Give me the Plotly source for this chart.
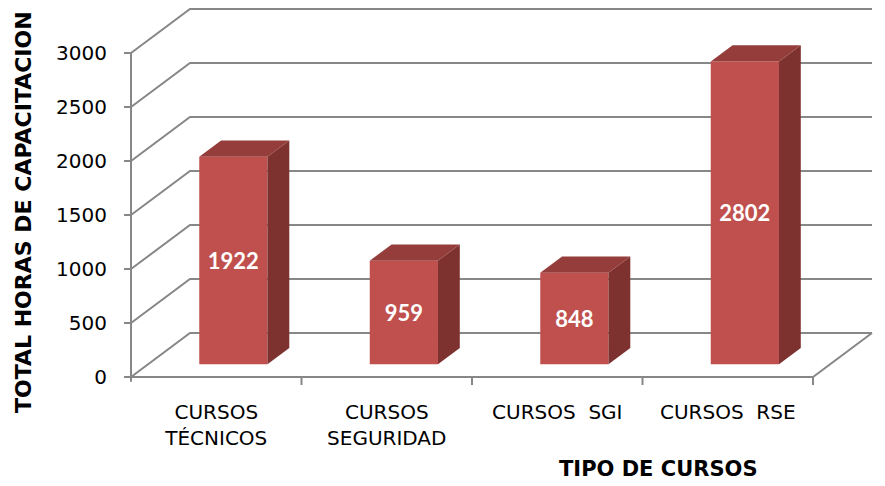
import plotly.graph_objects as go

# ---------------- data ----------------
categories = ["CURSOS<br>TÉCNICOS", "CURSOS<br>SEGURIDAD", "CURSOS\u00a0 SGI", "CURSOS\u00a0 RSE"]
hours = [1922, 959, 848, 2802]
y_ticks = [0, 500, 1000, 1500, 2000, 2500, 3000]
y_title = "TOTAL HORAS DE CAPACITACION"
x_title = "TIPO DE CURSOS"

# ---------------- geometry / style ----------------
OFF = 8                      # page body margin of the html page
W, H = 885 - OFF, 486 - OFF
AX_LEFT_PX = 131      # screen pixel of category boundary -0.5
CAT_PX = 170.5        # pixels per category
ZERO_PX = 377         # screen pixel of value 0 on the front plane
PX_PER_UNIT = 0.108   # pixels per value unit
PL, PR, PT, PB = 108, 878, 8, 394   # plot area in screen pixels

DX = 59 / CAT_PX            # depth offset (category units)
DY = 44 / PX_PER_UNIT       # depth offset (value units)
T0, T1 = 0.29, 0.66         # bar depth (front, back) as fraction of total depth
BAR_W = 0.4
TICK_LEN = 8 / PX_PER_UNIT
YTICK_LEN = 7 / CAT_PX

FRONT = "#C0504D"
SIDE = "#7E3230"
TOP = "#943D3A"
GRID = "#878787"
FONT = "DejaVu Sans"

n = len(hours)
xs = list(range(n))
x_lo, x_hi = -0.5, n - 0.5
v_max = y_ticks[-1]

x_range = [x_lo + (PL - AX_LEFT_PX) / CAT_PX, x_lo + (PR - AX_LEFT_PX) / CAT_PX]
y_range = [(ZERO_PX - PB) / PX_PER_UNIT, (ZERO_PX - PT) / PX_PER_UNIT]


def path(points):
    return "M " + " L ".join(f"{x},{y}" for x, y in points)


shapes = []
line = dict(color=GRID, width=2)
# left wall + back wall gridlines
for v in y_ticks:
    shapes.append(dict(type="path", xref="x", yref="y", layer="below", line=line,
                       path=path([(x_lo, v), (x_lo + DX, v + DY), (x_hi + DX, v + DY)])))
# floor front edge and right edge
shapes.append(dict(type="path", xref="x", yref="y", layer="below", line=line,
                   path=path([(x_lo, 0), (x_hi, 0), (x_hi + DX, DY)])))
# vertical value axis
shapes.append(dict(type="path", xref="x", yref="y", layer="below", line=line,
                   path=path([(x_lo, -TICK_LEN * 0.6), (x_lo, v_max)])))
# value axis tick marks
for v in y_ticks:
    shapes.append(dict(type="path", xref="x", yref="y", layer="below", line=line,
                       path=path([(x_lo - YTICK_LEN, v), (x_lo, v)])))
# category axis tick marks
for k in range(1, n + 1):
    shapes.append(dict(type="path", xref="x", yref="y", layer="below", line=line,
                       path=path([(x_lo + k, 0), (x_lo + k, -TICK_LEN)])))

fig = go.Figure()

base = T0 * DY
ddx, ddy = (T1 - T0) * DX, (T1 - T0) * DY

# front faces
fig.add_trace(go.Bar(
    x=[c + T0 * DX for c in xs], y=hours, base=base, width=BAR_W,
    marker=dict(color=FRONT, line=dict(width=0)),
    text=[str(h) for h in hours], textposition="inside", insidetextanchor="middle",
    textangle=0, constraintext="none",
    textfont=dict(family="Lato", size=22, color="white", weight="bold"),
    hoverinfo="skip", showlegend=False))

# side and top faces
for c, h in zip(xs, hours):
    xl = c - BAR_W / 2 + T0 * DX
    xr = c + BAR_W / 2 + T0 * DX
    sx = [xr, xr + ddx, xr + ddx, xr, xr]
    sy = [base, base + ddy, base + ddy + h, base + h, base]
    fig.add_trace(go.Scatter(x=sx, y=sy, fill="toself", fillcolor=SIDE, mode="lines",
                             line=dict(width=0, color=SIDE), hoverinfo="skip", showlegend=False))
    tx = [xl, xr, xr + ddx, xl + ddx, xl]
    ty = [base + h, base + h, base + h + ddy, base + h + ddy, base + h]
    fig.add_trace(go.Scatter(x=tx, y=ty, fill="toself", fillcolor=TOP, mode="lines",
                             line=dict(width=0, color=TOP), hoverinfo="skip", showlegend=False))

pw, ph = PR - PL, PB - PT
fig.update_layout(
    width=W, height=H,
    margin=dict(l=PL - OFF, r=W - (PR - OFF), t=PT - OFF, b=H - (PB - OFF), pad=0),
    paper_bgcolor="white", plot_bgcolor="white",
    shapes=shapes,
    font=dict(family=FONT, size=20, color="black"),
    xaxis=dict(range=x_range, tickvals=xs, ticktext=categories, ticks="",
               showgrid=False, zeroline=False, showline=False,
               tickfont=dict(size=20), ticklabelstandoff=4),
    yaxis=dict(range=y_range, tickvals=y_ticks, ticks="", showgrid=False,
               zeroline=False, showline=False, tickfont=dict(size=20),
               ticklabelstandoff=0),
    annotations=[
        dict(text=y_title, textangle=-90, xref="paper", yref="paper",
             x=(23 - PL) / pw, y=(PB - 212) / ph, xanchor="center", yanchor="middle",
             showarrow=False, font=dict(size=22, weight="bold")),
        dict(text=x_title, xref="paper", yref="paper",
             x=(658 - PL) / pw, y=(PB - 469) / ph, xanchor="center", yanchor="middle",
             showarrow=False, font=dict(size=21, weight="bold")),
    ],
)

fig.write_html("out.html")
